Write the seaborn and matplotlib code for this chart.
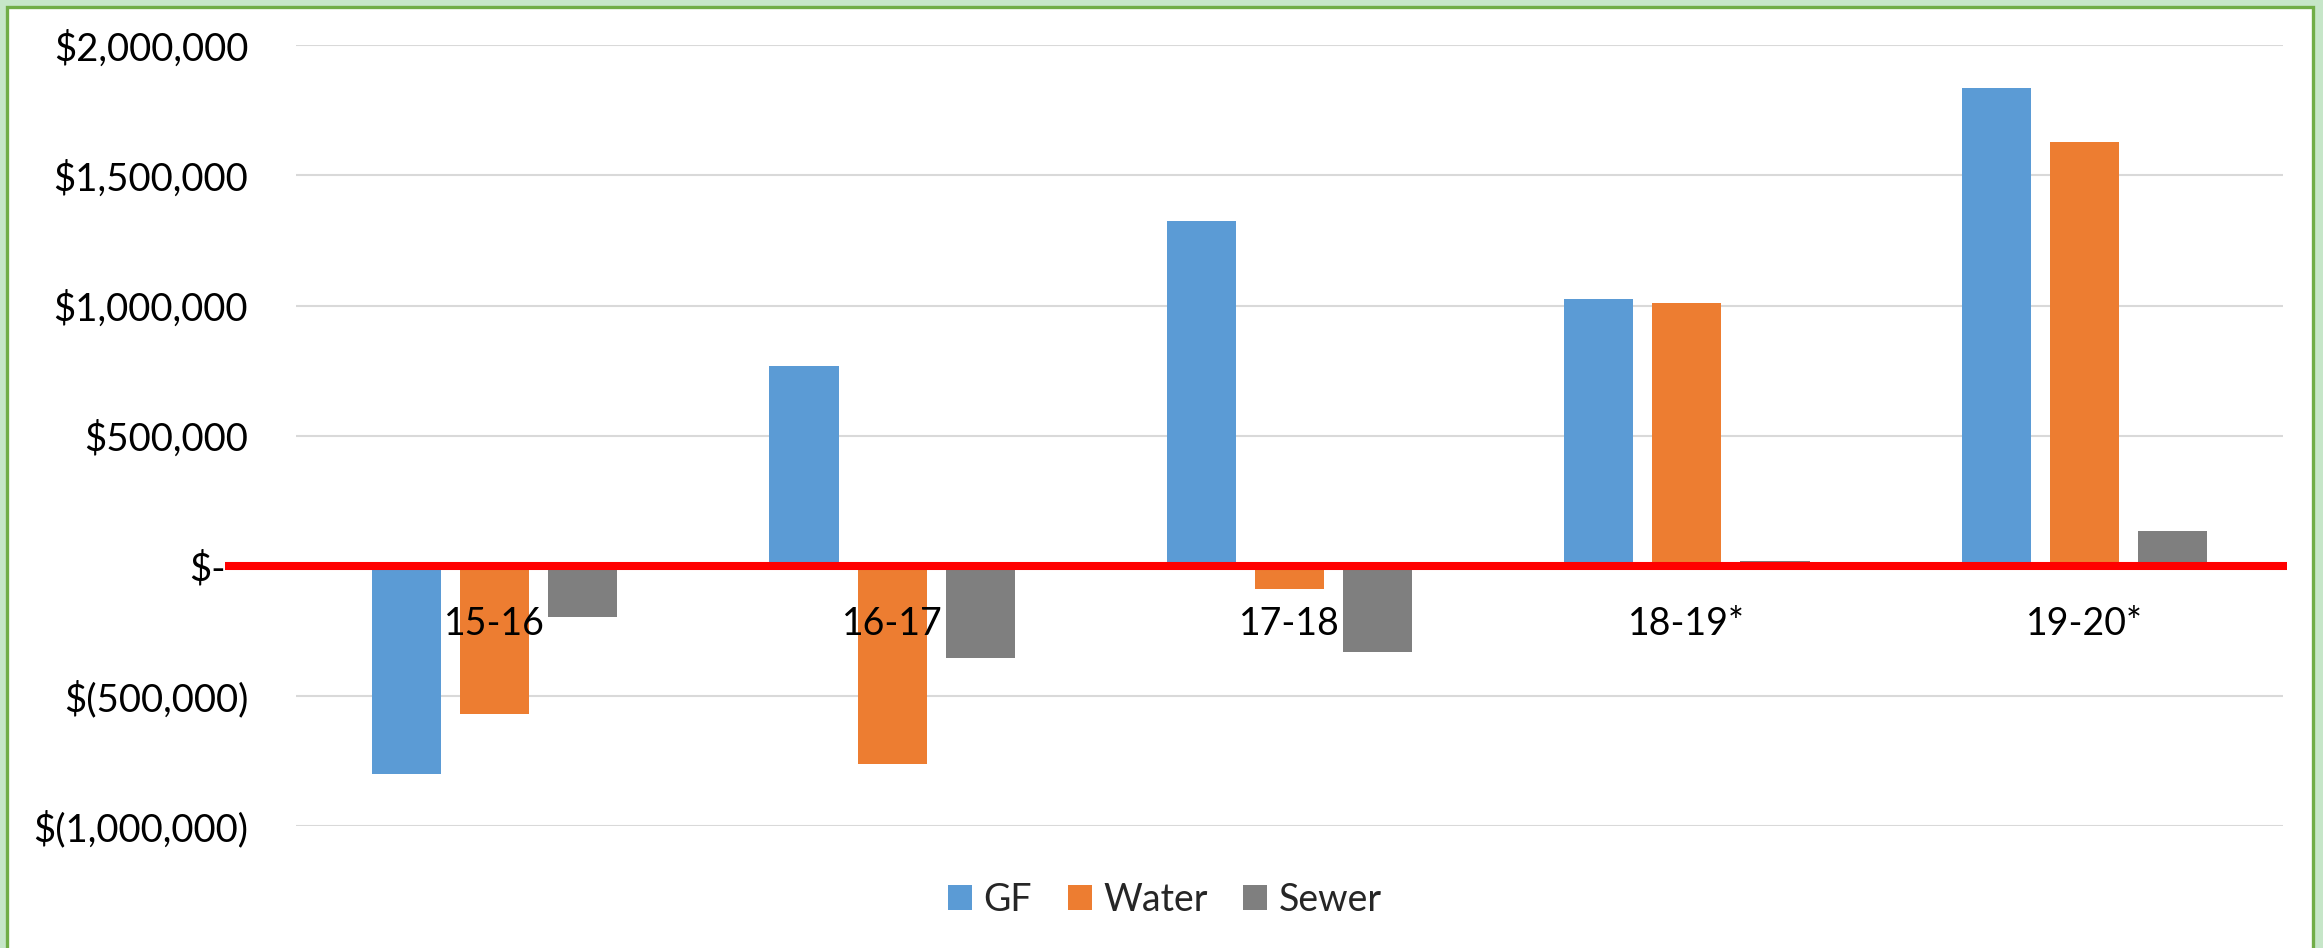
import matplotlib
matplotlib.use("Agg")
import matplotlib.pyplot as plt
from matplotlib.patches import Rectangle, Patch
from matplotlib.transforms import ScaledTranslation
import seaborn as sns
import pandas as pd

# Fiscal years and net results per fund
categories = ["15-16", "16-17", "17-18", "18-19*", "19-20*"]
series_names = ["GF", "Water", "Sewer"]
gf = [-797000, 768000, 1324000, 1027000, 1837000]
water = [-567000, -760000, -90000, 1010000, 1627000]
sewer = [-194000, -352000, -330000, 19000, 135000]
y_ticks = [-1000000, -500000, 0, 500000, 1000000, 1500000, 2000000]

colors = ["#5B9BD5", "#ED7D31", "#7F7F7F"]

df = pd.DataFrame({
    "year": categories * 3,
    "fund": [s for s in series_names for _ in categories],
    "value": gf + water + sewer,
})


def money(v):
    if v == 0:
        return "$-"
    if v < 0:
        return "$({:,.0f})".format(-v)
    return "${:,.0f}".format(v)


sns.set_style("white")
plt.rcParams["font.family"] = ["Lato", "DejaVu Sans"]

W, H = 2323, 948
fig = plt.figure(figsize=(W / 100, H / 100), dpi=100, facecolor="#C6E6C8")

# white chart frame with a green border, kept behind the axes
fig.patches.append(Rectangle((6.5 / W, -0.05), (2312.5 - 6.5) / W, 1.05 - 6.5 / H,
                             transform=fig.transFigure, facecolor="white",
                             edgecolor="#70AD47", linewidth=2.4, zorder=-5))

ax = fig.add_axes([296 / W, 1 - 826.4 / H, 1987 / W, (826.4 - 45.2) / H])
ax.set_facecolor("none")

sns.barplot(data=df, x="year", y="value", hue="fund", order=categories,
            hue_order=series_names, palette=colors, width=0.665, gap=0.215,
            saturation=1, edgecolor="none", linewidth=0, legend=False, ax=ax,
            zorder=2)

ax.set_xlim(-0.5, len(categories) - 0.5)
ax.set_ylim(y_ticks[0], y_ticks[-1])
ax.set_yticks(y_ticks, labels=[money(v) for v in y_ticks])
ax.set_xticks([])
ax.set_xlabel("")
ax.set_ylabel("")
ax.tick_params(axis="y", length=0, pad=34.5, labelsize=27.5, labelcolor="black")
ax.yaxis.grid(True, color="#D9D9D9", linewidth=1.5, zorder=0)
ax.set_axisbelow(True)
for sp in ax.spines.values():
    sp.set_visible(False)

# shift the zero label left so the dash meets the baseline
for lab, v in zip(ax.get_yticklabels(), y_ticks):
    if v == 0:
        lab.set_transform(lab.get_transform() + ScaledTranslation(-0.22, 0, fig.dpi_scale_trans))

# red zero line
ax.axhline(0, xmin=-0.0357, xmax=1.002, color="#FF0000", linewidth=5.8,
           solid_capstyle="butt", clip_on=False, zorder=5)

# category labels sitting just below the zero line
for i, cat in enumerate(categories):
    ax.annotate(cat, xy=(i, 0), xytext=(0, -49.5), textcoords="offset points",
                ha="center", va="baseline", fontsize=27, color="black", zorder=6)

handles = [Patch(facecolor=c, edgecolor="none", label=n) for c, n in zip(colors, series_names)]
fig.legend(handles=handles, loc="center", bbox_to_anchor=(1165 / W, 1 - 900 / H),
           ncol=3, frameon=False, fontsize=27, handlelength=0.64,
           handleheight=0.64, handletextpad=0.3, columnspacing=0.95)

fig.savefig("out.png", dpi=100, facecolor=fig.get_facecolor())
